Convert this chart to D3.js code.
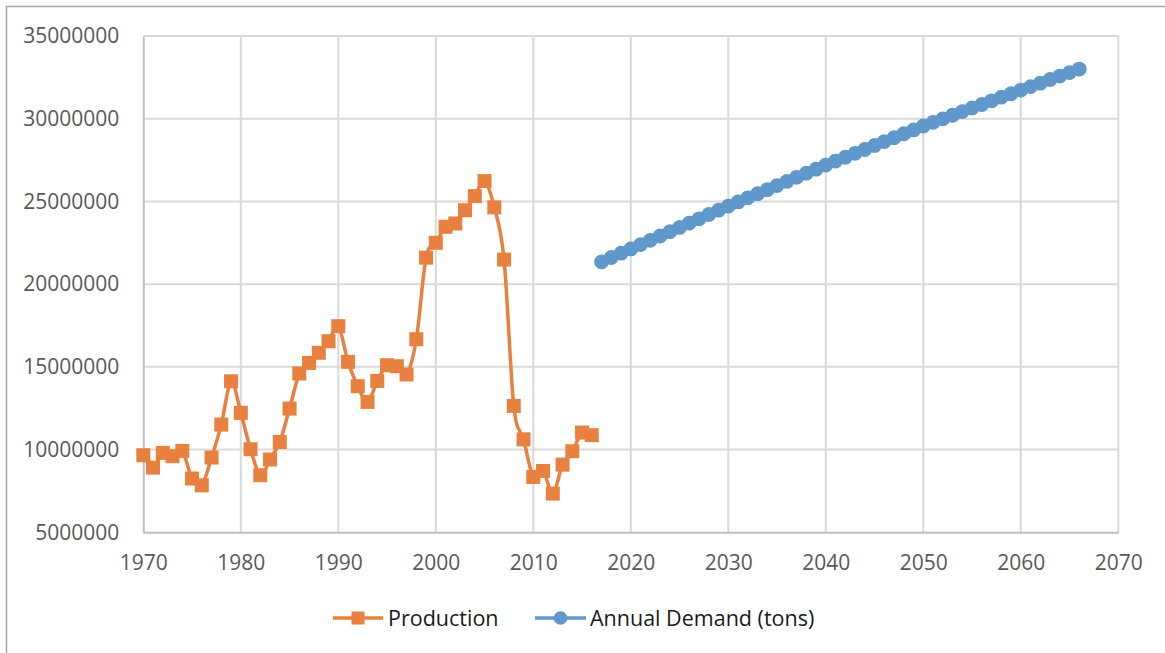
<!DOCTYPE html>
<html>
<head>
<meta charset="utf-8">
<script src="https://cdn.jsdelivr.net/npm/d3@7"></script>
<style>
  html, body { margin: 0; padding: 0; background: #fff; }
  svg { display: block; }
  text { font-family: "Open Sans", "DejaVu Sans", sans-serif; }
</style>
</head>
<body>
<svg id="chart" width="1165" height="653"></svg>
<script>
// ---- Data ----
const productionYears = [1970,1971,1972,1973,1974,1975,1976,1977,1978,1979,
  1980,1981,1982,1983,1984,1985,1986,1987,1988,1989,
  1990,1991,1992,1993,1994,1995,1996,1997,1998,1999,
  2000,2001,2002,2003,2004,2005,2006,2007,2008,2009,
  2010,2011,2012,2013,2014,2015,2016];
const productionValues = [9660000,8910000,9800000,9600000,9920000,8250000,7840000,9520000,11510000,14130000,
  12220000,10020000,8450000,9400000,10460000,12480000,14600000,15240000,15850000,16550000,
  17460000,15300000,13830000,12880000,14150000,15100000,15040000,14540000,16670000,21600000,
  22500000,23470000,23670000,24470000,25320000,26230000,24640000,21490000,12640000,10620000,
  8340000,8710000,7340000,9090000,9900000,11030000,10870000];

const demandYears = [2017,2018,2019,2020,2021,2022,2023,2024,2025,2026,
  2027,2028,2029,2030,2031,2032,2033,2034,2035,2036,
  2037,2038,2039,2040,2041,2042,2043,2044,2045,2046,
  2047,2048,2049,2050,2051,2052,2053,2054,2055,2056,
  2057,2058,2059,2060,2061,2062,2063,2064,2065,2066];
const demandValues = [21350000,21610000,21870000,22130000,22390000,22650000,22910000,23170000,23430000,23690000,
  23950000,24210000,24470000,24720000,24970000,25220000,25470000,25710000,25960000,26210000,
  26460000,26710000,26950000,27200000,27440000,27670000,27910000,28140000,28380000,28620000,
  28850000,29090000,29320000,29560000,29780000,29990000,30210000,30430000,30650000,30860000,
  31080000,31300000,31510000,31730000,31940000,32150000,32370000,32580000,32790000,33000000];

const xTickValues = [1970,1980,1990,2000,2010,2020,2030,2040,2050,2060,2070];
const yTickValues = [5000000,10000000,15000000,20000000,25000000,30000000,35000000];
const seriesNames = ["Production", "Annual Demand (tons)"];

// ---- Layout ----
const svg = d3.select("#chart");
const plot = { left: 143.3, right: 1118.3, top: 36, bottom: 532.3 };
const orange = "#E8803F";
const blue = "#6198CB";

const x = d3.scaleLinear().domain([1970, 2070]).range([plot.left, plot.right]);
const y = d3.scaleLinear().domain([5000000, 35000000]).range([plot.bottom, plot.top]);

// outer frame (extends past the window on right/bottom)
svg.append("path")
  .attr("d", "M6.5,660 L6.5,6.5 L1170,6.5")
  .attr("fill", "none").attr("stroke", "#a6a6a6").attr("stroke-width", 1.5);

// gridlines
const grid = svg.append("g");
grid.selectAll("line.h").data(yTickValues.slice(1)).join("line")
  .attr("x1", plot.left).attr("x2", plot.right)
  .attr("y1", d => y(d)).attr("y2", d => y(d))
  .attr("stroke", "#d9d9d9").attr("stroke-width", 2);
grid.selectAll("line.v").data(xTickValues.slice(1)).join("line")
  .attr("x1", d => x(d)).attr("x2", d => x(d))
  .attr("y1", plot.top).attr("y2", plot.bottom)
  .attr("stroke", "#d9d9d9").attr("stroke-width", 2);

// axes
const yAxis = svg.append("g")
  .attr("transform", `translate(${plot.left},0)`)
  .call(d3.axisLeft(y).tickValues(yTickValues).tickFormat(d3.format("d")).tickSize(0).tickPadding(24));
const xAxis = svg.append("g")
  .attr("transform", `translate(0,${plot.bottom})`)
  .call(d3.axisBottom(x).tickValues(xTickValues).tickFormat(d3.format("d")).tickSize(0).tickPadding(23));

[yAxis, xAxis].forEach(g => {
  g.select(".domain").attr("stroke", "#bfbfbf").attr("stroke-width", 2);
  g.selectAll("text").attr("fill", "#595959").style("font-size", "21px");
});

// lines
const line = d3.line().x(d => x(d[0])).y(d => y(d[1])).curve(d3.curveCardinal.tension(0));
const prodData = productionYears.map((yr, i) => [yr, productionValues[i]]);
const demData = demandYears.map((yr, i) => [yr, demandValues[i]]);

svg.append("path").datum(demData).attr("d", line)
  .attr("fill", "none").attr("stroke", blue).attr("stroke-width", 3.5).attr("stroke-linejoin", "round");
svg.append("g").selectAll("path").data(demData).join("path")
  .attr("transform", d => `translate(${x(d[0])},${y(d[1])})`)
  .attr("d", d3.symbol(d3.symbolCircle, Math.PI * 7.4 * 7.4))
  .attr("fill", blue);

svg.append("path").datum(prodData).attr("d", line)
  .attr("fill", "none").attr("stroke", orange).attr("stroke-width", 3.5).attr("stroke-linejoin", "round");
svg.append("g").selectAll("path").data(prodData).join("path")
  .attr("transform", d => `translate(${x(d[0])},${y(d[1])})`)
  .attr("d", d3.symbol(d3.symbolSquare, 14 * 14))
  .attr("fill", orange);

// legend
const legendY = 618;
const legendItems = [
  { name: seriesNames[0], color: orange, sym: d3.symbolSquare, size: 13 * 13, x0: 333, x1: 383, tx: 388 },
  { name: seriesNames[1], color: blue, sym: d3.symbolCircle, size: Math.PI * 6.8 * 6.8, x0: 535, x1: 586, tx: 590 }
];
const lg = svg.append("g").selectAll("g").data(legendItems).join("g");
lg.append("line")
  .attr("x1", d => d.x0).attr("x2", d => d.x1)
  .attr("y1", legendY).attr("y2", legendY)
  .attr("stroke", d => d.color).attr("stroke-width", 3.5);
lg.append("path")
  .attr("transform", d => `translate(${(d.x0 + d.x1) / 2},${legendY})`)
  .attr("d", d => d3.symbol(d.sym, d.size)())
  .attr("fill", d => d.color);
lg.append("text")
  .attr("x", d => d.tx).attr("y", legendY)
  .attr("dy", "0.35em")
  .attr("fill", "#1a1a1a")
  .style("font-size", "21.5px")
  .text(d => d.name);
</script>
</body>
</html>
